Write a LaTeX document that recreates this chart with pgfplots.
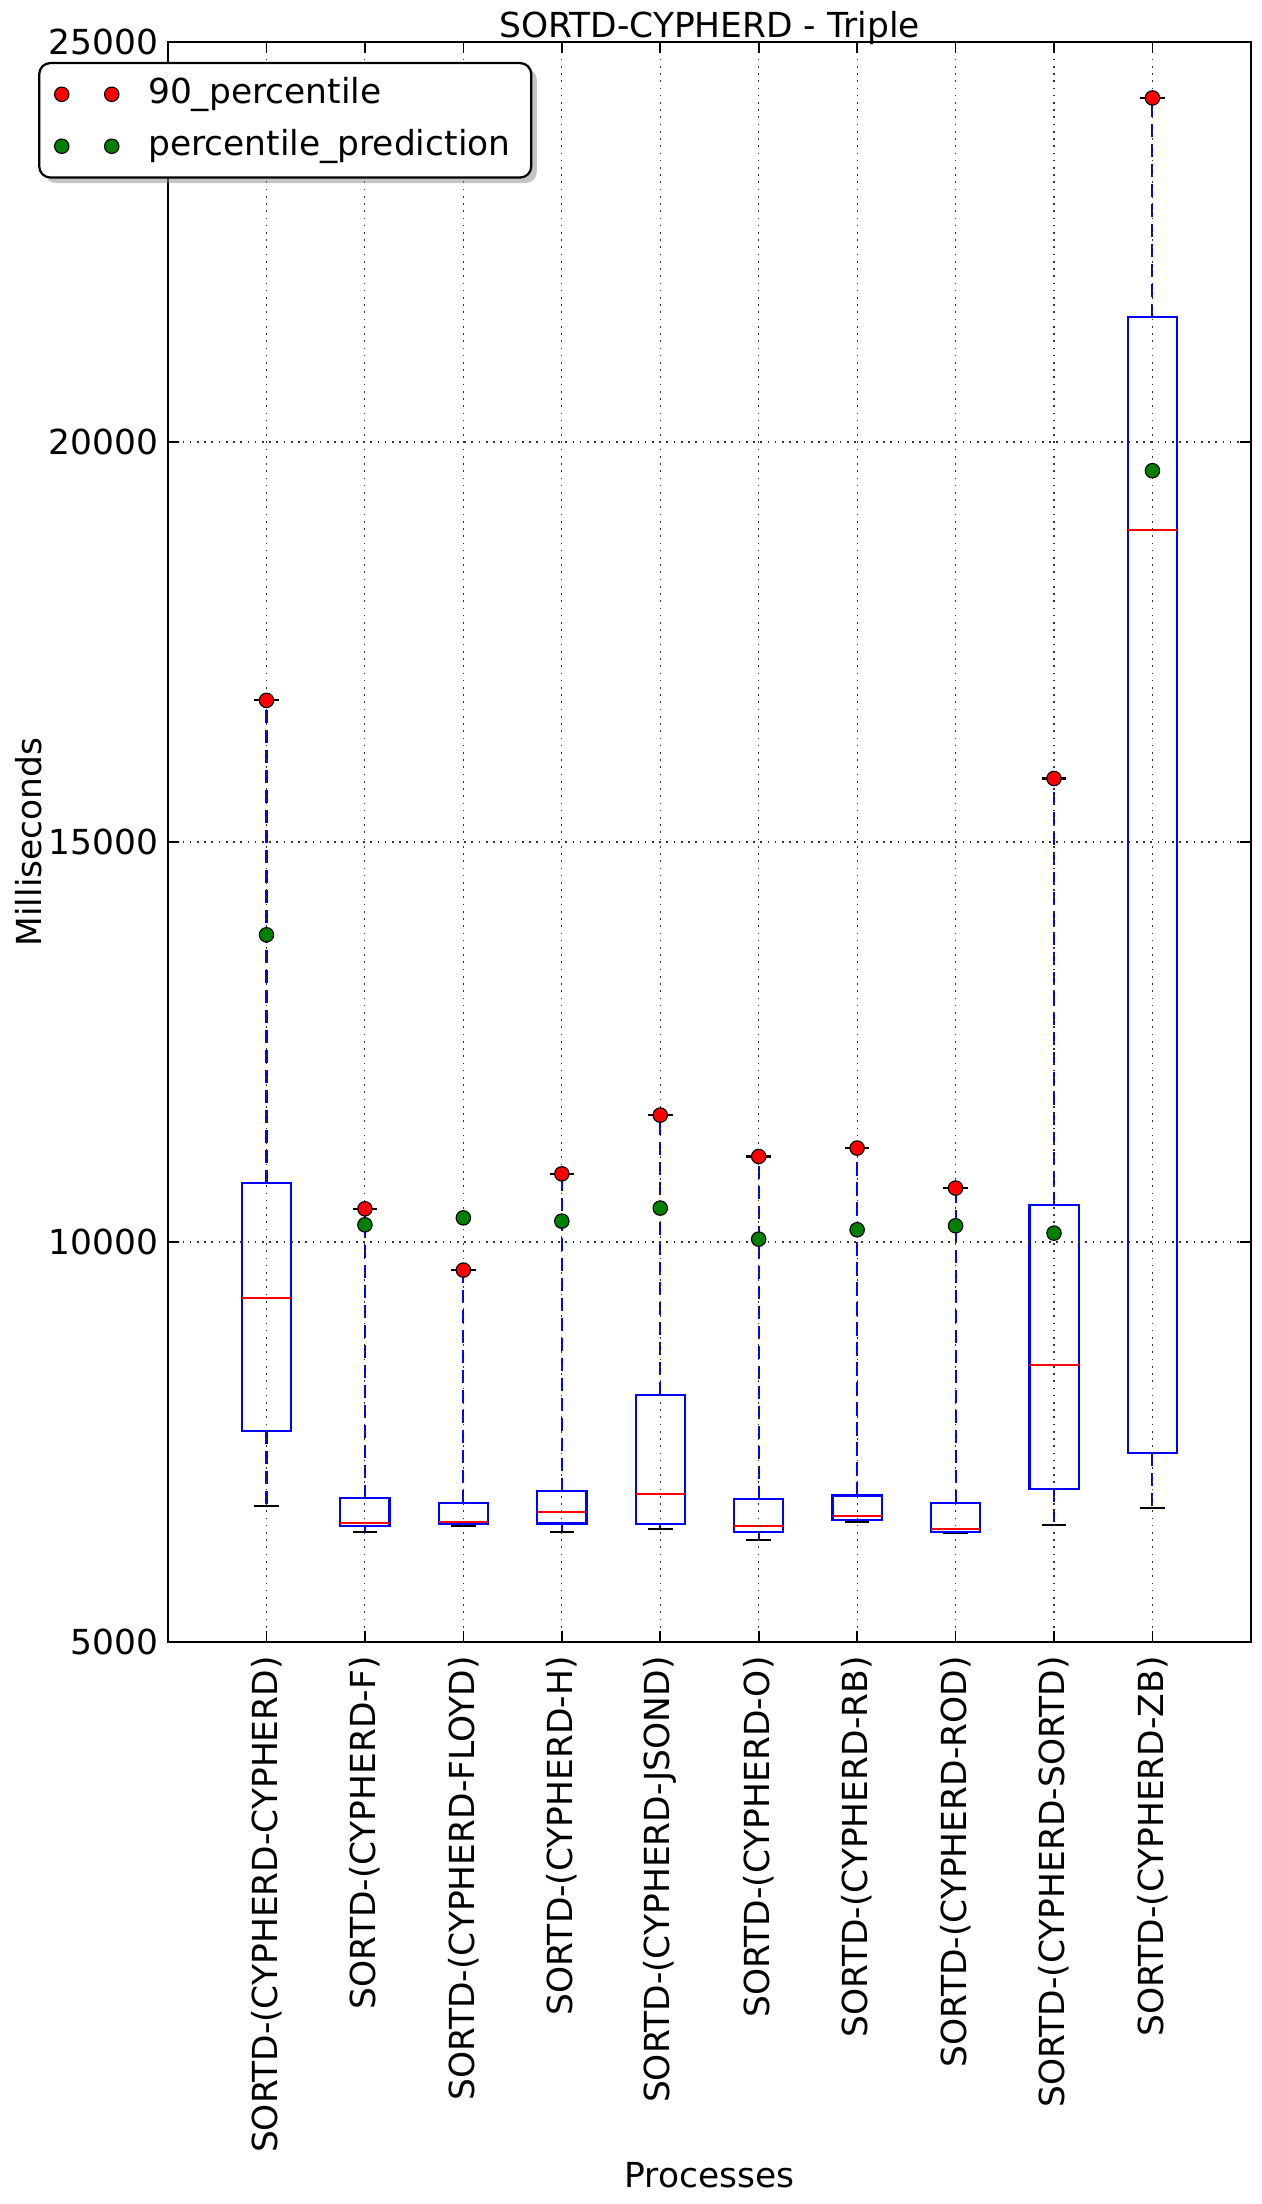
\documentclass[border=0pt]{standalone}
\usepackage{fontspec}
\setmainfont{DejaVu Sans}
\usepackage{pgfplots}
\pgfplotsset{compat=1.18}
\usetikzlibrary{shadows}
\definecolor{mgreen}{rgb}{0,0.5,0}
\pgfplotsset{twodots/.style={legend image code/.code={\draw[##1] plot coordinates {(0pt,0pt) (18pt,0pt)};}}}
\begin{document}
\begin{tikzpicture}[font=\fontsize{12.4pt}{15pt}\selectfont]
\path[use as bounding box] (-60.5pt,-202.3pt) rectangle (393.5pt,591.1pt);
\begin{axis}[
  at={(0pt,0pt)}, anchor=south west,
  scale only axis, width=389.8pt, height=576pt,
  xmin=0, xmax=11, ymin=5000, ymax=25000,
  xtick={1,...,10},
  xticklabels={SORTD-(CYPHERD-CYPHERD),SORTD-(CYPHERD-F),SORTD-(CYPHERD-FLOYD),SORTD-(CYPHERD-H),SORTD-(CYPHERD-JSOND),SORTD-(CYPHERD-O),SORTD-(CYPHERD-RB),SORTD-(CYPHERD-ROD),SORTD-(CYPHERD-SORTD),SORTD-(CYPHERD-ZB)},
  ytick={5000,10000,15000,20000,25000},
  yticklabels={5000,10000,15000,20000,25000},
  tick label style={font=\fontsize{12.4pt}{15pt}\selectfont},
  grid=major,
  grid style={black!80, line width=0.4pt, dash pattern=on 0.6pt off 2pt},
  axis on top,
  tick align=inside, tick pos=both, major tick length=4pt,
  tick style={black, line width=0.6pt},
  axis line style={line width=0.8pt},
  xticklabel style={rotate=90, anchor=east, inner sep=5pt},
  title={SORTD-CYPHERD - Triple},
  title style={at={(axis description cs:0.5,1)}, anchor=base, yshift=-4.5pt, inner sep=0pt},
  ylabel={Milliseconds},
  ylabel style={at={(axis description cs:-0.129,0.5)}, anchor=center},
  xlabel={Processes},
  xlabel style={at={(axis description cs:0.5,-0.3406)}, anchor=base},
  legend cell align=left,
  legend style={at={(-0.120,0.9875)}, anchor=north west, draw=black, line width=0.8pt,
    rounded corners=4pt, fill=white,
    drop shadow={shadow xshift=2pt, shadow yshift=-2pt, fill=black!45},
    inner xsep=5.5pt, inner ysep=3pt, column sep=8.5pt, row sep=2.2pt,
    nodes={inner sep=2pt, text height=9.5pt, text depth=3pt}},
  unbounded coords=jump,
]
% whiskers (quartile to whisker end)
\addplot[forget plot, blue, line width=0.75pt, dash pattern=on 4.7pt off 2.5pt] coordinates {
 (1,10736) (1,16770) (1,nan) (1,7636) (1,6700) (1,nan)
 (2,6799) (2,10415) (2,nan) (2,6449) (2,6374) (2,nan)
 (3,6736) (3,9649) (3,nan) (3,6474) (3,6449) (3,nan)
 (4,6886) (4,10852) (4,nan) (4,6481) (4,6374) (4,nan)
 (5,8086) (5,11586) (5,nan) (5,6474) (5,6411) (5,nan)
 (6,6786) (6,11069) (6,nan) (6,6374) (6,6274) (6,nan)
 (7,6831) (7,11174) (7,nan) (7,6524) (7,6499) (7,nan)
 (8,6736) (8,10674) (8,nan) (8,6374) (8,6361) (8,nan)
 (9,10461) (9,15794) (9,nan) (9,6915) (9,6461) (9,nan)
 (10,21560) (10,24300) (10,nan) (10,7361) (10,6677)
};
% caps
\addplot[forget plot, black, line width=0.8pt] coordinates {
 (0.875,16770) (1.125,16770) (1,nan) (0.875,6700) (1.125,6700) (1,nan)
 (1.875,10415) (2.125,10415) (2,nan) (1.875,6374) (2.125,6374) (2,nan)
 (2.875,9649) (3.125,9649) (3,nan) (2.875,6449) (3.125,6449) (3,nan)
 (3.875,10852) (4.125,10852) (4,nan) (3.875,6374) (4.125,6374) (4,nan)
 (4.875,11586) (5.125,11586) (5,nan) (4.875,6411) (5.125,6411) (5,nan)
 (5.875,11069) (6.125,11069) (6,nan) (5.875,6274) (6.125,6274) (6,nan)
 (6.875,11174) (7.125,11174) (7,nan) (6.875,6499) (7.125,6499) (7,nan)
 (7.875,10674) (8.125,10674) (8,nan) (7.875,6361) (8.125,6361) (8,nan)
 (8.875,15794) (9.125,15794) (9,nan) (8.875,6461) (9.125,6461) (9,nan)
 (9.875,24300) (10.125,24300) (10,nan) (9.875,6677) (10.125,6677)
};
% boxes (lower quartile, upper quartile)
\addplot[forget plot, blue, line width=0.8pt, line join=miter] coordinates {
 (0.75,7636) (1.25,7636) (1.25,10736) (0.75,10736) (0.75,7636) (1.25,7636) (1,nan)
 (1.75,6449) (2.25,6449) (2.25,6799) (1.75,6799) (1.75,6449) (2.25,6449) (2,nan)
 (2.75,6474) (3.25,6474) (3.25,6736) (2.75,6736) (2.75,6474) (3.25,6474) (3,nan)
 (3.75,6481) (4.25,6481) (4.25,6886) (3.75,6886) (3.75,6481) (4.25,6481) (4,nan)
 (4.75,6474) (5.25,6474) (5.25,8086) (4.75,8086) (4.75,6474) (5.25,6474) (5,nan)
 (5.75,6374) (6.25,6374) (6.25,6786) (5.75,6786) (5.75,6374) (6.25,6374) (6,nan)
 (6.75,6524) (7.25,6524) (7.25,6831) (6.75,6831) (6.75,6524) (7.25,6524) (7,nan)
 (7.75,6374) (8.25,6374) (8.25,6736) (7.75,6736) (7.75,6374) (8.25,6374) (8,nan)
 (8.75,6915) (9.25,6915) (9.25,10461) (8.75,10461) (8.75,6915) (9.25,6915) (9,nan)
 (9.75,7361) (10.25,7361) (10.25,21560) (9.75,21560) (9.75,7361) (10.25,7361)
};
% medians
\addplot[forget plot, red, line width=0.8pt] coordinates {
 (0.75,9300) (1.25,9300) (1,nan)
 (1.75,6486) (2.25,6486) (2,nan)
 (2.75,6499) (3.25,6499) (3,nan)
 (3.75,6624) (4.25,6624) (4,nan)
 (4.75,6849) (5.25,6849) (5,nan)
 (5.75,6449) (6.25,6449) (6,nan)
 (6.75,6574) (7.25,6574) (7,nan)
 (7.75,6411) (8.25,6411) (8,nan)
 (8.75,8461) (9.25,8461) (9,nan)
 (9.75,18900) (10.25,18900)
};
\addplot[only marks, mark=*, mark size=2.6pt, mark options={draw=black, fill=red, line width=0.4pt}, twodots]
  coordinates {(1,16770) (2,10415) (3,9649) (4,10852) (5,11586) (6,11069) (7,11174) (8,10674) (9,15794) (10,24300)};
\addlegendentry{90\_percentile}
\addplot[only marks, mark=*, mark size=2.6pt, mark options={draw=black, fill=mgreen, line width=0.4pt}, twodots]
  coordinates {(1,13840) (2,10215) (3,10302) (4,10261) (5,10424) (6,10036) (7,10153) (8,10203) (9,10111) (10,19641)};
\addlegendentry{percentile\_prediction}
\end{axis}
\end{tikzpicture}
\end{document}
